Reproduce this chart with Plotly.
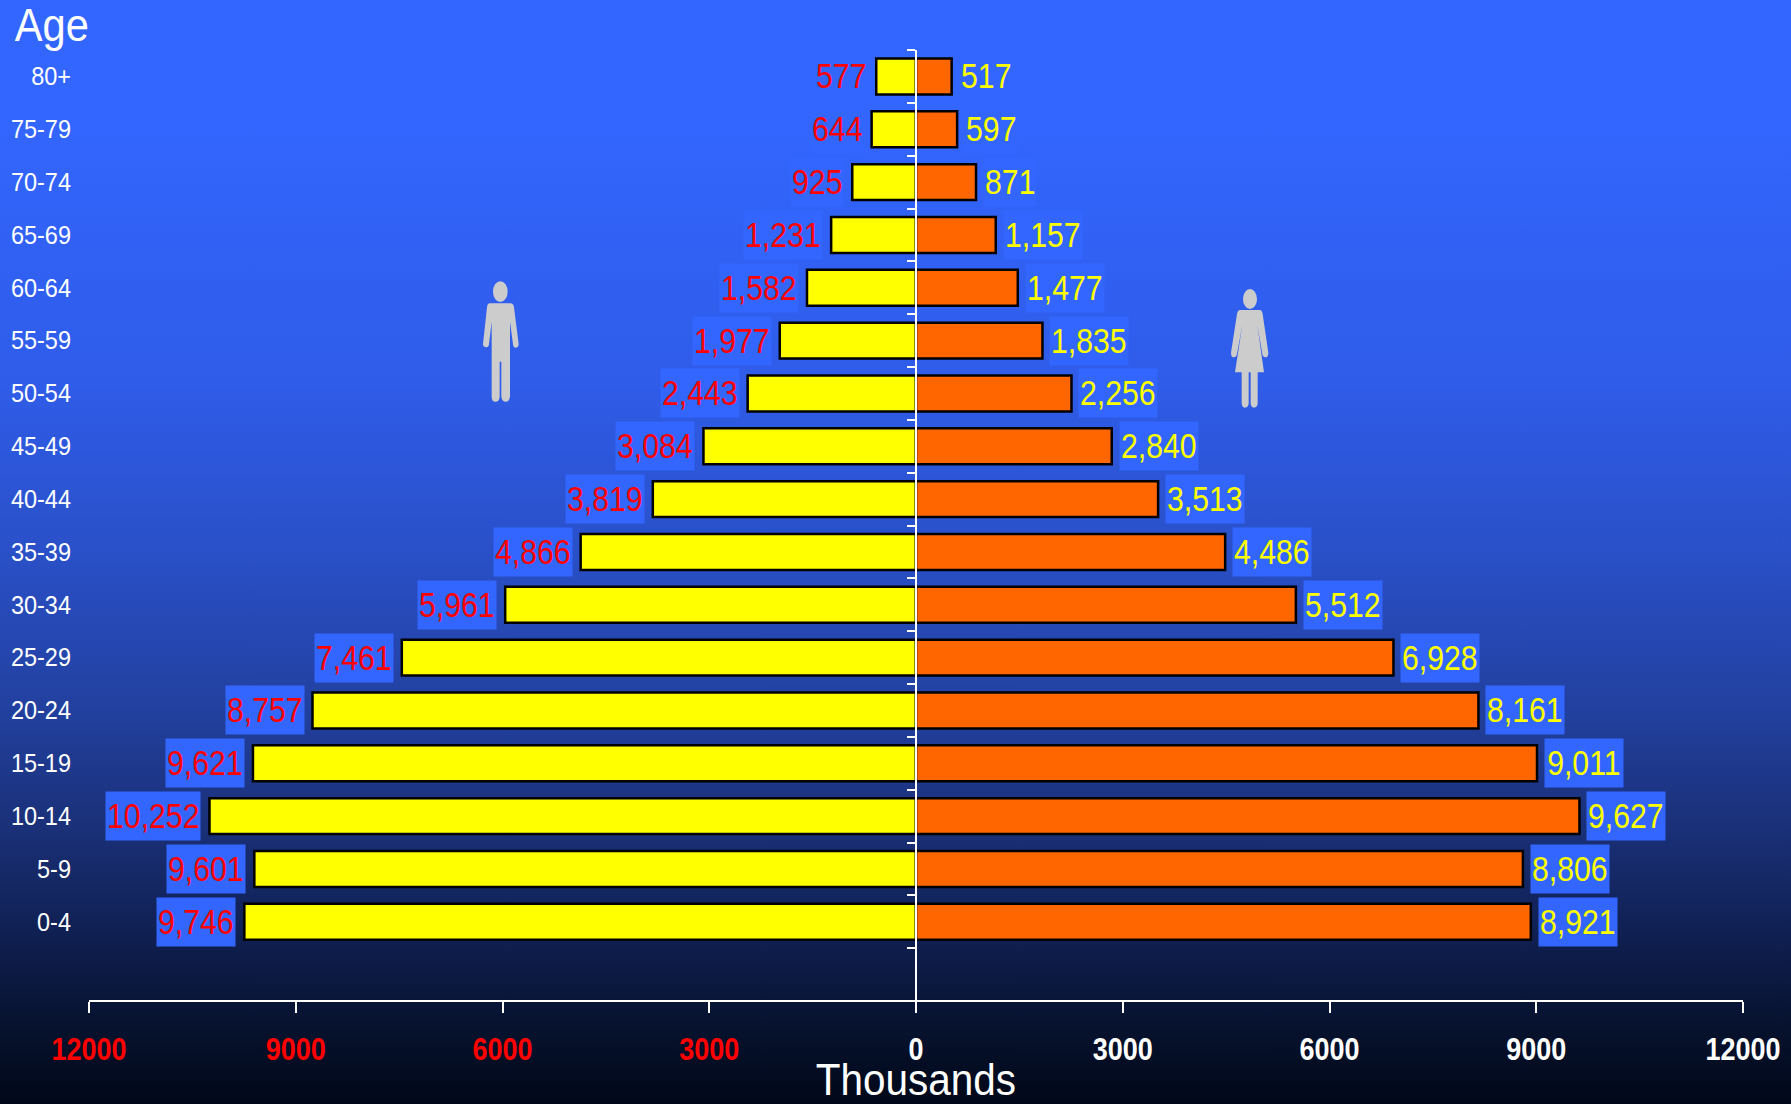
import base64
import plotly.graph_objects as go

# ---- data, listed from the youngest group up
age_groups = ["0-4", "5-9", "10-14", "15-19", "20-24", "25-29", "30-34", "35-39", "40-44",
              "45-49", "50-54", "55-59", "60-64", "65-69", "70-74", "75-79", "80+"]
male = [9746, 9601, 10252, 9621, 8757, 7461, 5961, 4866, 3819,
        3084, 2443, 1977, 1582, 1231, 925, 644, 577]
female = [8921, 8806, 9627, 9011, 8161, 6928, 5512, 4486, 3513,
          2840, 2256, 1835, 1477, 1157, 871, 597, 517]
x_ticks = [-12000, -9000, -6000, -3000, 0, 3000, 6000, 9000, 12000]

W, H = 1791, 1104
L, R, T, B = 89, 48, 50, 104
PW, PH = W - L - R, H - T - B
FONT = "Liberation Sans"
BOX = "#3366FF"
LABEL_SIZE = 36
LABEL_SQUEEZE = 0.84


def svg_uri(svg):
    return "data:image/svg+xml;base64," + base64.b64encode(svg.encode()).decode()


def page_image(svg, x, y, w, h, layer):
    return dict(source=svg_uri(svg), xref="paper", yref="paper",
                x=(x - L) / PW, y=1 - (y - T) / PH, sizex=w / PW, sizey=h / PH,
                xanchor="left", yanchor="top", sizing="stretch", layer=layer)


def label_width(text):
    em = sum(0.278 if c == "," else 0.556 for c in text)
    return em * LABEL_SIZE * LABEL_SQUEEZE + 2


stops = [(0, "#3366FF"), (0.10, "#3366FF"), (0.35, "#2F5CE8"), (0.5, "#2A50C8"), (0.65, "#213F9C"),
         (0.75, "#1A3078"), (0.85, "#0F1F50"), (0.93, "#07122E"), (1, "#000818")]
bg_svg = ('<svg xmlns="http://www.w3.org/2000/svg" width="100" height="1104" preserveAspectRatio="none">'
          '<defs><linearGradient id="g" x1="0" y1="0" x2="0" y2="1">'
          + "".join(f'<stop offset="{o}" stop-color="{c}"/>' for o, c in stops)
          + '</linearGradient></defs><rect width="100" height="1104" fill="url(#g)"/></svg>')

man_svg = ('<svg xmlns="http://www.w3.org/2000/svg" width="160" height="180" viewBox="0 0 480 540">'
           '<ellipse cx="181" cy="125" rx="22" ry="31" fill="#CCCCCC"/>'
           '<path fill="#CCCCCC" d="M150 160 H212 Q220 160 222 172 L236 282 Q236 293 226 293 Q220 293 219 283 '
           'L210 215 V440 Q208 455 197 455 Q186 455 184 440 V335 H179 V440 Q178 455 166 455 Q155 455 155 440 '
           'V215 L147 283 Q146 293 137 292 Q128 290 129 282 L141 172 Q142 160 150 160 Z"/></svg>')
woman_svg = ('<svg xmlns="http://www.w3.org/2000/svg" width="300" height="200" viewBox="0 0 900 600">'
             '<ellipse cx="450" cy="147" rx="21" ry="30" fill="#CCCCCC"/>'
             '<path fill="#CCCCCC" d="M420 180 H480 Q486 181 488 192 L505 308 Q505 322 496 322 Q489 322 487 312 '
             'L472 225 L492 367 H473 V460 Q472 473 462 473 Q453 473 452 460 V367 H446 V460 Q445 473 435 473 '
             'Q426 473 425 460 V367 H405 L427 225 L411 312 Q409 322 402 322 Q393 322 393 308 L411 192 '
             'Q413 181 420 180 Z"/></svg>')

fig = go.Figure()
fig.add_bar(y=age_groups, x=[-v for v in male], orientation="h", yaxis="y", name="Male",
            marker=dict(color="#FFFF00", line=dict(color="#000000", width=2.5)))
fig.add_bar(y=age_groups, x=female, orientation="h", yaxis="y2", name="Female",
            marker=dict(color="#FF6600", line=dict(color="#000000", width=2.5)))

annotations = []
for a, v in zip(age_groups, male):
    annotations.append(dict(x=-v, y=a, xref="x", yref="y", text=f"{v:,}", showarrow=False,
                            xanchor="right", xshift=-8, bgcolor=BOX, borderpad=0,
                            width=label_width(f"{v:,}"), height=48,
                            font=dict(family=FONT, size=LABEL_SIZE, color="#FF0000")))
for a, v in zip(age_groups, female):
    annotations.append(dict(x=v, y=a, xref="x", yref="y2", text=f"{v:,}", showarrow=False,
                            xanchor="left", xshift=7, bgcolor=BOX, borderpad=0,
                            width=label_width(f"{v:,}"), height=48,
                            font=dict(family=FONT, size=LABEL_SIZE, color="#FFFF00")))
annotations.append(dict(x=(52 - L) / PW, y=1 - (25 - T) / PH, xref="paper", yref="paper", text="Age",
                        xanchor="center", yanchor="middle",
                        showarrow=False, font=dict(family=FONT, size=47, color="#FFFFFF")))

y_range = [-1.48, 16.5]
fig.update_layout(
    width=W, height=H, margin=dict(l=L, r=R, t=T, b=B, autoexpand=False),
    paper_bgcolor="#000818", plot_bgcolor="rgba(0,0,0,0)",
    font=dict(family=FONT),
    showlegend=False, barmode="overlay", bargap=0.32,
    images=[page_image(bg_svg, 0, 0, W, H, "below"),
            page_image(man_svg, 440, 250, 160, 180, "above"),
            page_image(woman_svg, 1100, 250, 300, 200, "above")],
    annotations=annotations,
    xaxis=dict(range=[-12000, 12000], tickvals=x_ticks,
               ticktext=[f'<span style="color:#FF0000">{-t}</span>' if t < 0 else str(t) for t in x_ticks],
               ticks="outside", ticklen=11, tickwidth=2, tickcolor="#FFFFFF",
               showline=True, linecolor="#FFFFFF", linewidth=2, showgrid=False, zeroline=False,
               tickangle=0, ticklabelstandoff=10,
               tickfont=dict(family=FONT, size=31, color="#FFFFFF", weight="bold"),
               title=dict(text="Thousands", standoff=10, font=dict(family=FONT, size=44, color="#FFFFFF"))),
    yaxis=dict(type="category", categoryorder="array", categoryarray=age_groups, range=y_range,
               showgrid=False, zeroline=False, showline=False, ticks="outside", ticklen=12,
               tickcolor="rgba(0,0,0,0)", tickfont=dict(family=FONT, size=25, color="#FFFFFF")),
    yaxis2=dict(type="category", categoryorder="array", categoryarray=age_groups, range=y_range,
                overlaying="y", anchor="free", position=0.5, side="left", showgrid=False, zeroline=False,
                showline=True, linecolor="#FFFFFF", linewidth=2, ticks="outside", ticklen=8, tickwidth=2,
                tickcolor="#FFFFFF", tickson="boundaries", showticklabels=False),
)

# The reference's lettering is horizontally condensed; no narrow face is installed, so squeeze the real text.
post = """
document.body.style.margin='0';document.documentElement.style.overflow='hidden';
function sq(el,k,right){var b=el.getBBox();var c=right?b.x+b.width:b.x+b.width/2;
 el.setAttribute('transform',(el.getAttribute('transform')||'')+' translate('+c+',0) scale('+k+',1) translate('+(-c)+',0)');}
document.querySelectorAll('.xtick text').forEach(function(e){sq(e,0.87,false);});
document.querySelectorAll('.ytick text').forEach(function(e){sq(e,0.94,true);});
document.querySelectorAll('.xtitle').forEach(function(e){sq(e,0.92,false);});
document.querySelectorAll('.annotation-text').forEach(function(e){e.removeAttribute('clip-path');sq(e,e.textContent==='Age'?0.885:%s,false);});
""" % LABEL_SQUEEZE
fig.write_html("out.html", config=dict(displayModeBar=False), post_script=post)
